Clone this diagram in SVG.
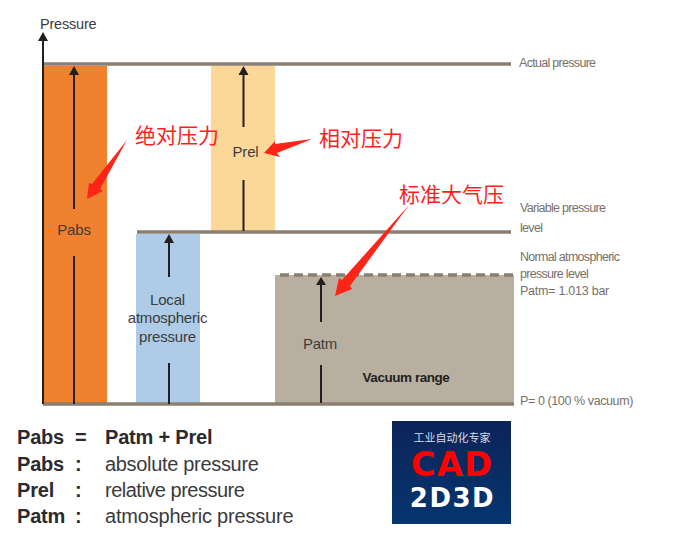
<svg xmlns="http://www.w3.org/2000/svg" width="675" height="538" viewBox="0 0 675 538">
<style>
text{font-family:"Liberation Sans",Arial,sans-serif}
.d{font-size:15px;fill:#3c3c3c;letter-spacing:-.2px}
.l{font-size:12.5px;fill:#77716a;letter-spacing:-.7px}
.r{font-size:21px;fill:#ff1e1e;font-family:"Noto Sans CJK SC",sans-serif}
.b{font-size:20px;font-weight:bold;fill:#2a2a30;letter-spacing:-.2px}
.n{font-size:20px;fill:#3a3a3e;letter-spacing:-.2px}
.a{stroke:#231f20;stroke-width:2;fill:none}
.g{stroke:#8a7f70;stroke-width:3.5;fill:none}
.h{fill:#231f20}
.rd{fill:#ff2418}
</style>
<rect width="675" height="538" fill="#fff"/>
<g id="bar-pabs"><rect x="44" y="66" width="63" height="338" fill="#f0812f"/><text class="d" x="74" y="235" text-anchor="middle">Pabs</text></g>
<g id="bar-prel"><rect x="211" y="66" width="64" height="165" fill="#fbd898"/><text class="d" x="245.500" y="156.500" text-anchor="middle">Prel</text></g>
<g id="bar-local"><rect x="136" y="234" width="64" height="170" fill="#aecbe8"/><text class="d" text-anchor="middle"><tspan x="167.500" y="304.500">Local</tspan><tspan x="167.500" y="323">atmospheric</tspan><tspan x="167.500" y="341.500">pressure</tspan></text></g>
<g id="bar-patm"><rect x="275" y="275" width="239" height="129" fill="#b8afa0"/><text class="d" x="320" y="349" text-anchor="middle">Patm</text><text x="406" y="382" text-anchor="middle" font-size="13.500" font-weight="bold" fill="#231f20" letter-spacing="-.45">Vacuum range</text></g>
<g id="levels">
<path class="g" d="M43 64H511M137 232H511M43 404H514"/>
<path class="g" d="M280 275H514" stroke-dasharray="9 5"/>
<text class="l" x="519" y="67">Actual pressure</text>
<text class="l"><tspan x="520" y="212">Variable pressure</tspan><tspan x="520" y="232">level</tspan></text>
<text class="l"><tspan x="520" y="261">Normal atmospheric</tspan><tspan x="520" y="278">pressure level</tspan><tspan x="520" y="295" style="letter-spacing:-.25px">Patm= 1.013 bar</tspan></text>
<text class="l" x="520" y="405" style="letter-spacing:-.4px">P= 0 (100 % vacuum)</text>
</g>
<g id="connectors">
<path class="a" d="M43 40V404M74 74V209M74 256V404M243.500 74V127M243.500 180V231M169 243V277M169 363V404M321 284V322M321 365V403"/>
<path class="h" d="M43 32l5 9h-10zM74 66l5 9h-10zM243.500 66l5 9h-10zM169 234l5 9h-10zM321 277l5 8h-10z"/>
</g>
<text x="40" y="29" font-size="14.500" fill="#3c3c3c" letter-spacing="-.2">Pressure</text>
<g id="annotations">
<path class="rd" d="M127 140L92 184L89 183L87 199L103 191L100 189Z"/>
<path class="rd" d="M312 139L275 144L275 141L264 153L280 157L277 153Z"/>
<path class="rd" d="M409 205L342 280L339 278L335 296L352 289L350 286Z"/>
<text class="r" x="135" y="143">绝对压力</text>
<text class="r" x="319" y="146">相对压力</text>
<text class="r" x="399" y="202">标准大气压</text>
</g>
<g id="legend">
<text class="b" x="17" y="444">Pabs</text><text class="b" x="75" y="444">=</text><text class="b" x="105" y="444">Patm + Prel</text>
<text class="b" x="17" y="471">Pabs</text><text class="b" x="75" y="471">:</text><text class="n" x="105" y="471" style="letter-spacing:-.32px">absolute pressure</text>
<text class="b" x="17" y="497">Prel</text><text class="b" x="75" y="497">:</text><text class="n" x="105" y="497" style="letter-spacing:-.5px">relative pressure</text>
<text class="b" x="17" y="523">Patm</text><text class="b" x="75" y="523">:</text><text class="n" x="105" y="523">atmospheric pressure</text>
</g>
<defs><linearGradient id="lg" x1="0" y1="0" x2="0" y2="1"><stop offset="0" stop-color="#0c2459"/><stop offset="1" stop-color="#06356f"/></linearGradient></defs>
<g id="logo">
<rect x="392" y="421" width="119" height="103" fill="url(#lg)"/>
<text x="452" y="442" text-anchor="middle" font-size="11" fill="#d8dce6" style="font-family:'Noto Sans CJK SC',sans-serif">工业自动化专家</text>
<text x="452" y="476" text-anchor="middle" font-size="34" font-weight="bold" fill="#ff0000" letter-spacing="1" style="font-family:'DejaVu Sans',sans-serif">CAD</text>
<text x="452.500" y="507" text-anchor="middle" font-size="26" font-weight="bold" fill="#fff" letter-spacing="1.500" style="font-family:'DejaVu Sans',sans-serif">2D3D</text>
</g>
</svg>
